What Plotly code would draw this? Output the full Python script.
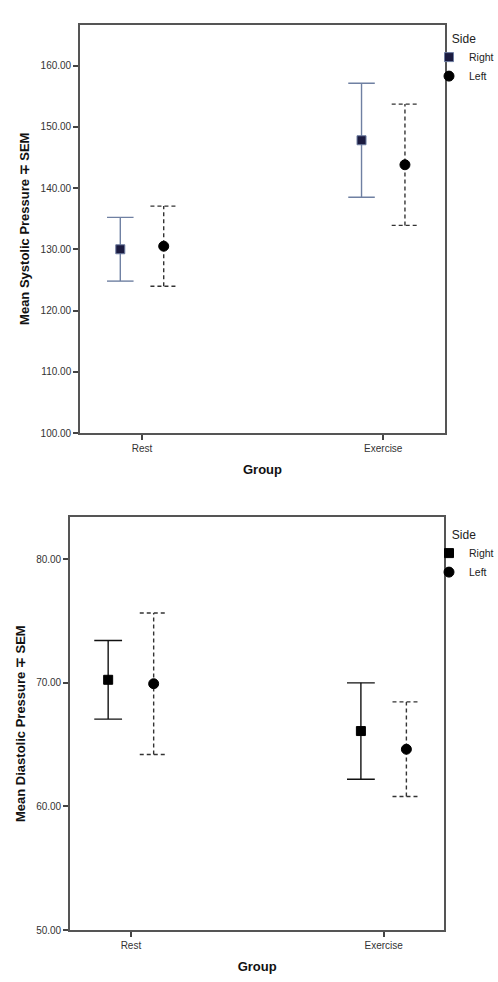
import plotly.graph_objects as go

# ---- data ----
groups = ["Rest", "Exercise"]
sides = ["Right", "Left"]

sys_right_mean = [130.0, 147.8]
sys_right_sem = [5.2, 9.3]
sys_left_mean = [130.5, 143.8]
sys_left_sem = [6.55, 9.9]

dia_right_mean = [70.25, 66.1]
dia_right_sem = [3.18, 3.9]
dia_left_mean = [69.93, 64.63]
dia_left_sem = [5.73, 3.83]

sys_ticks = [100, 110, 120, 130, 140, 150, 160]
dia_ticks = [50, 60, 70, 80]

# ---- style ----
DODGE = 0.09
CAP = 0.055
FONT = "Liberation Sans, Arial, sans-serif"

fig = go.Figure()


def add_series(means, sems, side_idx, xa, ya, legend, bar_color, mk_color, mk_line, symbol, size, dash):
    off = -DODGE if side_idx == 0 else DODGE
    xs_pts = [i + off for i in range(len(groups))]
    ex, ey = [], []
    for x, m, s in zip(xs_pts, means, sems):
        lo, hi = m - s, m + s
        ex += [x, x, None, x - CAP, x + CAP, None, x - CAP, x + CAP, None]
        ey += [lo, hi, None, hi, hi, None, lo, lo, None]
    fig.add_trace(go.Scatter(x=ex, y=ey, mode="lines", xaxis=xa, yaxis=ya,
                             line=dict(color=bar_color, width=1.4, dash=dash),
                             showlegend=False, hoverinfo="skip"))
    fig.add_trace(go.Scatter(x=xs_pts, y=means, mode="markers", xaxis=xa, yaxis=ya,
                             name=sides[side_idx], legend=legend,
                             marker=dict(symbol=symbol, size=size, color=mk_color,
                                         line=dict(color=mk_line, width=1))))


add_series(sys_right_mean, sys_right_sem, 0, "x", "y", "legend",
           "#6f80a2", "#1b1b40", "#6d7ca0", "square", 9, "solid")
add_series(sys_left_mean, sys_left_sem, 1, "x", "y", "legend",
           "#333333", "#000000", "#000000", "circle", 10, "4px,3px")
add_series(dia_right_mean, dia_right_sem, 0, "x2", "y2", "legend2",
           "#111111", "#000000", "#000000", "square", 9, "solid")
add_series(dia_left_mean, dia_left_sem, 1, "x2", "y2", "legend2",
           "#333333", "#000000", "#000000", "circle", 10, "4px,3px")

axis_common = dict(showline=True, linecolor="#555555", linewidth=1.6, mirror=True,
                   ticks="outside", ticklen=5, tickcolor="#444444", tickwidth=1.5,
                   showgrid=False, zeroline=False, automargin=False,
                   tickfont=dict(family=FONT, size=10, color="#333333"))

xtitle = dict(text="<b>Group</b>", font=dict(family=FONT, size=13, color="#111111"), standoff=12)

legend_common = dict(xanchor="left", yanchor="top",
                     title=dict(text="Side", side="top center",
                                font=dict(family=FONT, size=12, color="#222222")),
                     font=dict(family=FONT, size=10.5, color="#222222"),
                     bgcolor="rgba(0,0,0,0)", itemwidth=30, tracegroupgap=0)

fig.update_layout(
    width=498, height=982,
    margin=dict(l=0, r=0, t=0, b=0, autoexpand=False),
    paper_bgcolor="white", plot_bgcolor="white",
    font=dict(family=FONT),
    xaxis=dict(domain=[80 / 498, 445 / 498], anchor="y", range=[-0.257, 1.256],
               tickvals=list(range(len(groups))), ticktext=groups, title=xtitle, **axis_common),
    yaxis=dict(domain=[(982 - 433) / 982, (982 - 24.5) / 982], anchor="x", range=[100, 166.7],
               tickvals=sys_ticks, ticktext=[f"{v:.2f}" for v in sys_ticks],
               title=dict(text="<b>Mean Systolic Pressure \u2213 SEM</b>",
                          font=dict(family=FONT, size=13, color="#111111"), standoff=8),
               **axis_common),
    xaxis2=dict(domain=[70 / 498, 444.3 / 498], anchor="y2", range=[-0.241, 1.24],
                tickvals=list(range(len(groups))), ticktext=groups, title=xtitle, **axis_common),
    yaxis2=dict(domain=[(982 - 930) / 982, (982 - 517.3) / 982], anchor="x2", range=[50, 83.4],
                tickvals=dia_ticks, ticktext=[f"{v:.2f}" for v in dia_ticks],
                title=dict(text="<b>Mean Diastolic Pressure \u2213 SEM</b>",
                           font=dict(family=FONT, size=13, color="#111111"), standoff=8),
                **axis_common),
    legend=dict(x=429 / 498, y=(982 - 27) / 982, **legend_common),
    legend2=dict(x=429 / 498, y=(982 - 523) / 982, **legend_common),
)

fig.write_html("out.html")
